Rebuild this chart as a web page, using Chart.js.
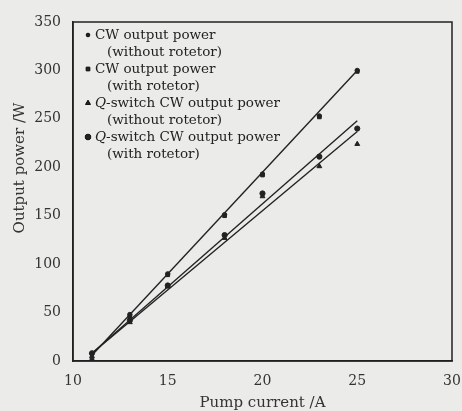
<!DOCTYPE html>
<html>
<head>
<meta charset="utf-8">
<script src="https://cdn.jsdelivr.net/npm/chart.js@4"></script>
<style>
  html, body { margin: 0; padding: 0; background: #ebebe9; }
  #wrap { width: 462px; height: 411px; position: relative; }
</style>
</head>
<body>
<div id="wrap"><canvas id="c" width="462" height="411"></canvas></div>
<script>
// pump current (A) where points were measured
const current = [11, 13, 15, 18, 20, 23, 25];
const cwNoRot = [0, 48, 90, 151, 193, 253, 300];
const cwRot = [1, 46, 89, 150, 192, 252, 299];
const qNoRot = [5, 40, 77, 127, 170, 201, 224];
const qRot = [8, 42, 78, 130, 173, 211, 240];

// fitted lines, end points
const fitX = [11, 25];
const fitCw = [6, 300];
const fitQa = [8, 248];
const fitQb = [8, 237];

const xTicks = [10, 15, 20, 25, 30];
const yTicks = [0, 50, 100, 150, 200, 250, 300, 350];

const legendRows = [
    ['CW output power', '(without rotetor)'],
    ['CW output power', '(with rotetor)'],
    ['Q-switch CW output power', '(without rotetor)'],
    ['Q-switch CW output power', '(with rotetor)']
];

const SERIF = '"DejaVu Serif", "Liberation Serif", serif';
const ink = '#222';

function pts(xs, ys) { return xs.map((x, i) => ({ x: x, y: ys[i] })); }

function marks(data, style, r) {
    return { data: data, showLine: false, pointStyle: style, pointRadius: r,
             backgroundColor: ink, borderColor: ink, borderWidth: 1 };
}
function fit(data) {
    return { data: data, showLine: true, pointRadius: 0, borderColor: ink,
             borderWidth: 1.4, fill: false };
}

const markerStyles = [['circle', 1.8], ['rect', 2.6], ['triangle', 2.8], ['circle', 2.8]];

const legendPlugin = {
    id: 'legendText',
    afterDraw(chart) {
        const ctx = chart.ctx;
        ctx.save();
        ctx.fillStyle = ink;
        ctx.textBaseline = 'middle';
        let y = 35;
        legendRows.forEach((row, i) => {
            const [st, r] = markerStyles[i];
            Chart.helpers.drawPoint(ctx, { pointStyle: st, radius: r, borderWidth: 1 }, 88, y);
            ctx.fill();
            // first line, Q in italics
            ctx.font = '13.5px ' + SERIF;
            let x = 95;
            let t = row[0];
            if (t.startsWith('Q')) {
                ctx.font = 'italic 13.5px ' + SERIF;
                ctx.fillText('Q', x, y);
                x += ctx.measureText('Q').width;
                ctx.font = '13.5px ' + SERIF;
                t = t.slice(1);
            }
            ctx.fillText(t, x, y);
            ctx.fillText(row[1], 107, y + 17);
            y += 34;
        });
        ctx.restore();
    }
};

const titlesPlugin = {
    id: 'axisTitles',
    afterDraw(chart) {
        const ctx = chart.ctx, a = chart.chartArea;
        ctx.save();
        ctx.fillStyle = '#333';
        ctx.font = '15px ' + SERIF;
        ctx.textAlign = 'center';
        ctx.textBaseline = 'middle';
        ctx.fillText('Pump current /A', (a.left + a.right) / 2, 403);
        ctx.translate(20, 168);
        ctx.rotate(-Math.PI / 2);
        ctx.fillText('Output power /W', 0, 0);
        ctx.restore();
    }
};

new Chart(document.getElementById('c'), {
    type: 'scatter',
    data: {
        datasets: [
            marks(pts(current, cwNoRot), 'circle', 2.2),
            marks(pts(current, cwRot), 'rect', 2.6),
            marks(pts(current, qNoRot), 'triangle', 2.8),
            marks(pts(current, qRot), 'circle', 2.6),
            fit(pts(fitX, fitCw)),
            fit(pts(fitX, fitQa)),
            fit(pts(fitX, fitQb))
        ]
    },
    options: {
        responsive: false,
        animation: false,
        layout: { padding: { left: 0, right: 10, top: 22, bottom: 0 } },
        plugins: { legend: { display: false }, tooltip: { enabled: false } },
        scales: {
            x: {
                type: 'linear', min: 10, max: 30,
                afterBuildTicks: s => { s.ticks = xTicks.map(v => ({ value: v })); },
                afterFit: s => { s.height = 50; s.paddingRight = 0; },
                grid: { display: false },
                border: { display: true, color: ink, width: 1.5 },
                ticks: { color: '#333', font: { family: SERIF, size: 14 }, padding: 4 }
            },
            y: {
                min: 0, max: 350,
                afterBuildTicks: s => { s.ticks = yTicks.map(v => ({ value: v })); },
                afterFit: s => { s.width = 73; },
                grid: { display: false },
                border: { display: true, color: ink, width: 1.5 },
                ticks: { color: '#333', font: { family: SERIF, size: 14 }, padding: 4 }
            }
        }
    },
    plugins: [legendPlugin, titlesPlugin, {
        id: 'frame',
        afterDraw(chart) {
            const a = chart.chartArea, ctx = chart.ctx;
            ctx.save();
            ctx.strokeStyle = ink;
            ctx.lineWidth = 1.5;
            ctx.strokeRect(a.left, a.top, a.right - a.left, a.bottom - a.top);
            ctx.restore();
        }
    }]
});
</script>
</body>
</html>
